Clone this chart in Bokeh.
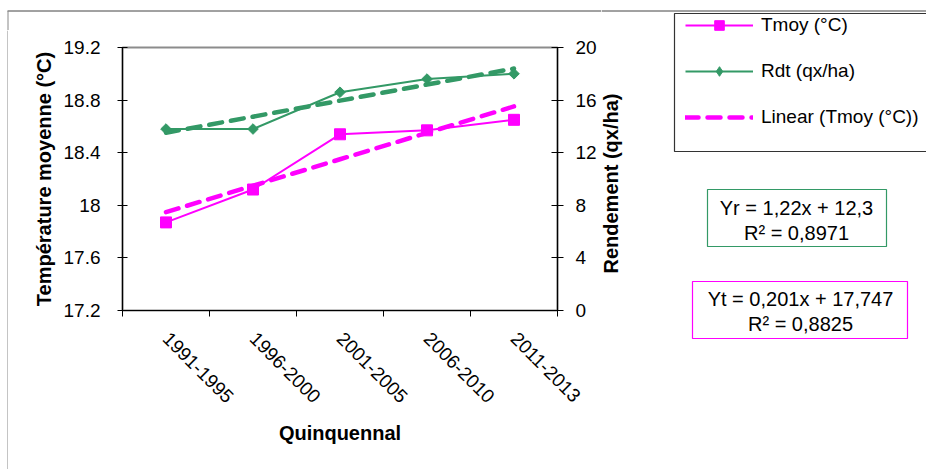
import math
import numpy as np
from bokeh.plotting import figure
from bokeh.layouts import row, column
from bokeh.models import (Range1d, LinearAxis, FixedTicker, Legend, LegendItem, ColumnDataSource)
from bokeh.core.properties import value
from bokeh.embed import file_html
from bokeh.resources import INLINE

# ---------------- data ----------------
categories = ["1991-1995", "1996-2000", "2001-2005", "2006-2010", "2011-2013"]
tmoy = [17.87, 18.12, 18.54, 18.57, 18.65]          # Température moyenne (°C)
rdt = [13.8, 13.8, 16.6, 17.6, 18.0]                 # Rendement (qx/ha)
tmoy_ticks = [17.2, 17.6, 18.0, 18.4, 18.8, 19.2]
tmoy_tick_labels = ["17.2", "17.6", "18", "18.4", "18.8", "19.2"]
rdt_ticks = [0, 4, 8, 12, 16, 20]
eq_rdt = ["Yr = 1,22x + 12,3", "R\u00b2 = 0,8971"]
eq_tmoy = ["Yt = 0,201x + 17,747", "R\u00b2 = 0,8825"]
legend_labels = ["Tmoy (°C)", "Rdt (qx/ha)", "Linear (Tmoy (°C))"]

# ---------------- layout / styles ----------------
FONT = "Liberation Sans"
MAGENTA = "#FF00FF"
GREEN = "#339966"
W, H = 926, 469
TOP_STRIP = 30          # strip above the main chart (holds the outer border line)
LEFT_STRIP = 8          # strip left of the main chart (holds the outer border line)
A_W = 593               # main chart figure width
B_X0 = LEFT_STRIP + A_W # x where the right-hand panel starts
B_W = W - B_X0
BODY_H = H - TOP_STRIP
BORDER_X, BORDER_Y = 7.5, 10.5

x = list(range(1, len(categories) + 1))
t_fit = np.polyfit(x, tmoy, 1)
r_fit = np.polyfit(x, rdt, 1)
trend_t = list(np.polyval(t_fit, x))
trend_r = list(np.polyval(r_fit, x))


def blank(width, height, xr, yr):
    f = figure(width=width, height=height, output_backend="svg", toolbar_location=None,
               x_range=Range1d(*xr), y_range=Range1d(*yr),
               x_axis_location=None, y_axis_location=None,
               min_border=0, min_border_left=0, min_border_right=0,
               min_border_top=0, min_border_bottom=0, frame_align=False)
    f.grid.visible = False
    f.outline_line_color = None
    f.background_fill_color = "white"
    f.border_fill_color = "white"
    return f


# ---------------- main chart ----------------
p = figure(width=A_W, height=BODY_H, output_backend="svg", toolbar_location=None,
           x_range=Range1d(0.5, len(categories) + 0.5),
           y_range=Range1d(tmoy_ticks[0], tmoy_ticks[-1]),
           x_axis_location=None, y_axis_location=None,
           min_border_left=114, min_border_right=44,
           min_border_top=47 - TOP_STRIP, min_border_bottom=159, frame_align=False)
p.grid.visible = False
p.extra_y_ranges = {"rdt": Range1d(rdt_ticks[0], rdt_ticks[-1])}
p.outline_line_color = "#8c8c8c"
p.outline_line_width = 2
p.background_fill_color = "white"
p.border_fill_color = "white"

xaxis = LinearAxis(ticker=FixedTicker(ticks=x, minor_ticks=[i + 0.5 for i in range(len(categories) + 1)]),
                   major_label_overrides={i + 1: c for i, c in enumerate(categories)})
xaxis.axis_label = "Quinquennal"
xaxis.major_tick_in = 0
xaxis.major_tick_out = 0
xaxis.minor_tick_in = 0
xaxis.minor_tick_out = 6
xaxis.minor_tick_line_color = "black"
xaxis.major_label_orientation = -math.pi / 4
xaxis.major_label_standoff = 19
xaxis.axis_label_standoff = 10
p.add_layout(xaxis, "below")

yleft = LinearAxis(ticker=FixedTicker(ticks=tmoy_ticks),
                   major_label_overrides={v: s for v, s in zip(tmoy_ticks, tmoy_tick_labels)})
yleft.axis_label = "Température moyenne (°C)"
yleft.major_tick_in = 5
yleft.major_tick_out = 5
yleft.major_label_standoff = 17
yleft.axis_label_standoff = 6
p.add_layout(yleft, "left")

yright = LinearAxis(y_range_name="rdt", ticker=FixedTicker(ticks=rdt_ticks))
yright.major_tick_in = 6
yright.major_tick_out = 6
yright.major_label_standoff = 12
p.add_layout(yright, "right")

for ax in (xaxis, yleft, yright):
    ax.axis_line_color = "black"
    ax.axis_line_width = 1.2
    ax.major_tick_line_color = "black"
    ax.major_label_text_font = FONT
    ax.major_label_text_font_size = "19px"
    ax.major_label_text_color = "black"
    ax.axis_label_text_font = FONT
    ax.axis_label_text_font_size = "20px"
    ax.axis_label_text_font_style = "bold"
    ax.axis_label_text_color = "black"
yleft.minor_tick_line_color = None
yright.minor_tick_line_color = None

LINE_T = dict(line_color=MAGENTA, line_width=2)
LINE_R = dict(line_color=GREEN, line_width=2)
TREND_T = dict(line_color=MAGENTA, line_width=4.5, line_dash="13 9", line_cap="round")
TREND_R = dict(line_color=GREEN, line_width=4.5, line_dash="13 9", line_cap="round")
MARK_T = dict(marker="square", size=11, fill_color=MAGENTA, line_color=MAGENTA)
MARK_R = dict(marker="square", angle=math.pi / 4, size=7.5, fill_color=GREEN, line_color=GREEN)
MARK_R_LEGEND = dict(marker="diamond", size=12, fill_color=GREEN, line_color=GREEN)

p.line(x, tmoy, **LINE_T)
p.line(x, rdt, y_range_name="rdt", **LINE_R)
p.line(x, trend_r, y_range_name="rdt", **TREND_R)
p.line(x, trend_t, **TREND_T)
p.scatter(x, tmoy, **MARK_T)
p.scatter(x, rdt, y_range_name="rdt", **MARK_R)

# ---------------- right-hand panel: right axis title, legend, equations ----------------
q = blank(B_W, H, (B_X0, W), (H, 0))
q.segment(x0=[B_X0], y0=[BORDER_Y], x1=[W], y1=[BORDER_Y], line_color="#444444", line_width=1)
q.text(x=[610], y=[183], text=["Rendement (qx/ha)"], angle=math.pi / 2,
       text_align="center", text_baseline="middle", text_font=value(FONT),
       text_font_size="20px", text_font_style="bold", text_color="black")

# legend frame
q.quad(left=[674], right=[940], top=[13], bottom=[151], fill_color=None,
       line_color="#333333", line_width=1.2)

# legend proxies (no visible data: NaN)
def proxy():
    return ColumnDataSource(data=dict(x=[np.nan], y=[np.nan]))

pl_t = q.line("x", "y", source=proxy(), **LINE_T)
ps_t = q.scatter("x", "y", source=proxy(), **MARK_T)
pl_r = q.line("x", "y", source=proxy(), **LINE_R)
ps_r = q.scatter("x", "y", source=proxy(), **MARK_R_LEGEND)
pl_tr = q.line("x", "y", source=proxy(), **TREND_T)

legend = Legend(items=[LegendItem(label=legend_labels[0], renderers=[pl_t, ps_t]),
                       LegendItem(label=legend_labels[1], renderers=[pl_r, ps_r]),
                       LegendItem(label=legend_labels[2], renderers=[pl_tr])],
                location=(681 - B_X0, H - 133), orientation="vertical",
                border_line_alpha=0, background_fill_alpha=0,
                padding=4, margin=0, spacing=22, glyph_width=68, glyph_height=24,
                label_height=24, label_standoff=8,
                label_text_font=FONT, label_text_font_size="19px",
                label_text_color="black")
q.add_layout(legend)

# equation boxes
q.quad(left=[707], right=[886], top=[189], bottom=[246], fill_color=None,
       line_color=GREEN, line_width=1.2)
q.quad(left=[692], right=[907], top=[281], bottom=[338], fill_color=None,
       line_color=MAGENTA, line_width=1.2)
q.text(x=[796, 796, 800, 800], y=[207, 232, 298, 323], text=eq_rdt + eq_tmoy,
       text_align="center", text_baseline="middle", text_font=value(FONT),
       text_font_size="20px", text_color="black")

# ---------------- outer chart border strips ----------------
top = blank(B_X0, TOP_STRIP, (0, B_X0), (TOP_STRIP, 0))
top.segment(x0=[7], y0=[BORDER_Y], x1=[B_X0], y1=[BORDER_Y], line_color="#444444", line_width=1)
top.segment(x0=[BORDER_X], y0=[BORDER_Y], x1=[BORDER_X], y1=[TOP_STRIP], line_color="#888888", line_width=1)
left = blank(LEFT_STRIP, BODY_H, (0, LEFT_STRIP), (H, TOP_STRIP))
left.segment(x0=[BORDER_X], y0=[TOP_STRIP], x1=[BORDER_X], y1=[H], line_color="#888888", line_width=1)

layout = row(column(top, row(left, p, spacing=0), spacing=0), q, spacing=0)

open("out.html", "w").write(file_html(layout, INLINE))
